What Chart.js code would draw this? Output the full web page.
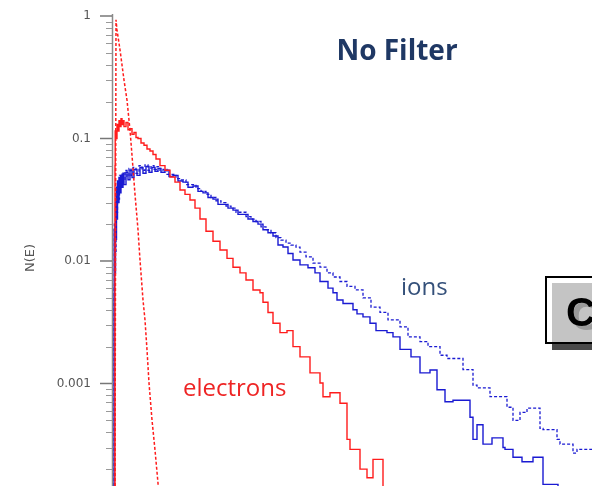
<!DOCTYPE html>
<html><head><meta charset="utf-8">
<script src="https://cdn.jsdelivr.net/npm/chart.js@4.4.1/dist/chart.umd.min.js"></script>
<style>html,body{margin:0;padding:0;background:#fff;overflow:hidden}</style>
</head><body>
<canvas id="c" width="592" height="486"></canvas>
<script>
// ---- tick labels ----
const yTickValues = [1, 0.1, 0.01, 0.001];
const yTickLabels = ['1', '0.1', '0.01', '0.001'];

// ---- electrons, dashed (sharp spike) ----
const redDashE = [0.2, 0.3, 0.4, 0.7, 1.1, 1.4, 1.7, 1.9, 2.2, 2.5, 2.7, 3.0, 3.2, 3.4, 3.6, 3.9, 4.2, 4.5, 4.6];
const redDashN = [0.0001, 0.93, 0.77, 0.53, 0.30, 0.206, 0.117, 0.073, 0.035, 0.018, 0.0102, 0.0048, 0.0033, 0.00188, 0.00101, 0.000504, 0.000286, 0.000154, 0.0001];

// ---- electrons, solid ----
const redSolE = [0.2, 0.22, 0.3, 0.4, 0.5, 0.6, 0.7, 0.8, 0.9, 1.0, 1.1, 1.3, 1.5, 1.7, 1.9, 2.1, 2.3, 2.5, 2.8, 3.1, 3.4, 3.7, 4.0, 4.3, 4.7, 5.2, 5.7, 6.2, 6.7, 7.2, 7.7, 8.2, 8.7, 9.3, 10.0, 10.7, 11.4, 12.0, 12.7, 13.3, 14.0, 14.7, 15.0, 15.5, 16.0, 16.7, 17.4, 18.0, 18.7, 19.7, 20.7, 21.0, 21.7, 22.7, 23.4, 23.7, 24.7, 25.4, 26.0, 27.0, 27.4];
const redSolN = [0.0001, 0.06, 0.115, 0.10, 0.13, 0.115, 0.14, 0.125, 0.145, 0.13, 0.14, 0.125, 0.135, 0.118, 0.12, 0.108, 0.112, 0.102, 0.100, 0.092, 0.088, 0.082, 0.079, 0.074, 0.068, 0.060, 0.055, 0.0485, 0.044, 0.038, 0.035, 0.0315, 0.027, 0.022, 0.0175, 0.0145, 0.0123, 0.0105, 0.0089, 0.0080, 0.0070, 0.0058, 0.0055, 0.0046, 0.0038, 0.0031, 0.0026, 0.0027, 0.0020, 0.00165, 0.00122, 0.00101, 0.00078, 0.00084, 0.00069, 0.00035, 0.00029, 0.00020, 0.00017, 0.00024, 0.0001];

// ---- ions, solid ----
const blueSolE = [0.1, 0.12, 0.2, 0.25, 0.3, 0.35, 0.4, 0.45, 0.5, 0.6, 0.7, 0.8, 0.9, 1.0, 1.1, 1.3, 1.5, 1.7, 1.9, 2.1, 2.4, 2.7, 3.0, 3.3, 3.6, 3.9, 4.2, 4.5, 4.8, 5.2, 5.6, 6.0, 6.5, 7.0, 7.5, 8.0, 8.5, 9.0, 9.5, 10.0, 10.5, 11.0, 11.5, 12.0, 12.5, 13.0, 13.5, 14.0, 14.5, 15.0, 15.5, 16.0, 16.5, 17.0, 17.5, 18.0, 18.7, 19.5, 20.2, 20.7, 21.5, 22.0, 22.4, 23.0, 24.0, 24.4, 25.0, 25.7, 26.3, 27.4, 28.0, 28.7, 29.0, 29.8, 30.7, 31.7, 32.4, 33.2, 34.0, 35.7, 36.0, 36.4, 37.0, 37.9, 39.0, 39.2, 40.0, 40.9, 42.0, 43.0, 43.7, 44.5, 44.6];
const blueSolN = [0.0001, 0.0051, 0.018, 0.008, 0.03, 0.015, 0.04, 0.022, 0.045, 0.03, 0.048, 0.036, 0.05, 0.04, 0.052, 0.042, 0.053, 0.046, 0.055, 0.048, 0.056, 0.05, 0.058, 0.052, 0.059, 0.053, 0.058, 0.054, 0.057, 0.053, 0.055, 0.049, 0.050, 0.045, 0.044, 0.040, 0.041, 0.037, 0.036, 0.033, 0.032, 0.029, 0.029, 0.027, 0.026, 0.024, 0.024, 0.022, 0.021, 0.020, 0.018, 0.017, 0.016, 0.0135, 0.013, 0.0115, 0.0102, 0.0093, 0.0088, 0.0080, 0.0068, 0.0060, 0.0055, 0.0048, 0.0045, 0.0040, 0.0037, 0.0035, 0.0031, 0.0027, 0.0026, 0.0024, 0.0019, 0.0019, 0.00165, 0.00122, 0.00129, 0.00089, 0.00071, 0.00073, 0.00053, 0.00035, 0.00046, 0.00032, 0.00036, 0.00030, 0.00029, 0.00025, 0.00023, 0.00025, 0.00015, 0.00015, 0.0001];

// ---- ions, dashed ----
const blueDashE = [0.1, 0.13, 0.2, 0.3, 0.35, 0.45, 0.55, 0.65, 0.75, 0.9, 1.0, 1.2, 1.4, 1.6, 1.8, 2.0, 2.3, 2.6, 2.9, 3.2, 3.5, 3.8, 4.1, 4.4, 4.7, 5.0, 5.4, 5.8, 6.3, 6.8, 7.3, 7.8, 8.3, 8.8, 9.3, 9.8, 10.3, 10.8, 11.3, 11.8, 12.3, 12.8, 13.3, 13.8, 14.3, 14.8, 15.3, 15.8, 16.3, 16.8, 17.3, 17.8, 18.3, 18.7, 19.3, 20.0, 20.7, 21.4, 22.0, 22.7, 23.4, 24.2, 25.0, 25.8, 26.7, 27.5, 28.7, 29.5, 30.7, 31.5, 32.7, 33.4, 35.0, 36.0, 36.4, 37.7, 39.4, 40.0, 40.7, 41.4, 42.7, 43.0, 44.4, 44.7, 46.0, 46.4, 47.7, 48.0];
const blueDashN = [0.0001, 0.006, 0.02, 0.012, 0.035, 0.025, 0.044, 0.032, 0.05, 0.042, 0.052, 0.045, 0.055, 0.049, 0.057, 0.05, 0.058, 0.052, 0.060, 0.055, 0.061, 0.055, 0.060, 0.056, 0.059, 0.055, 0.056, 0.051, 0.051, 0.047, 0.046, 0.042, 0.042, 0.039, 0.037, 0.035, 0.033, 0.031, 0.030, 0.028, 0.027, 0.025, 0.025, 0.023, 0.022, 0.021, 0.019, 0.018, 0.017, 0.0155, 0.0148, 0.014, 0.0135, 0.013, 0.0118, 0.0108, 0.0096, 0.0089, 0.0080, 0.0074, 0.0068, 0.0062, 0.0058, 0.0050, 0.0042, 0.0038, 0.0033, 0.0029, 0.0024, 0.0022, 0.0020, 0.0017, 0.0016, 0.0013, 0.00097, 0.00092, 0.00078, 0.00064, 0.00050, 0.00058, 0.00063, 0.00043, 0.00042, 0.00035, 0.00032, 0.00027, 0.00029, 0.00029];

const pts = (xs, ys) => xs.map((x, i) => ({x: x, y: ys[i]}));

const decor = {
  id: 'decor',
  afterDraw(chart) {
    const ctx = chart.ctx;
    const ys = chart.scales.y;
    const top = chart.chartArea.top, bottom = chart.chartArea.bottom;
    ctx.save();
    // axis line
    ctx.strokeStyle = '#8a8a8a';
    ctx.lineWidth = 1.5;
    ctx.beginPath(); ctx.moveTo(112.5, top - 2); ctx.lineTo(112.5, bottom); ctx.stroke();
    // major ticks
    ctx.strokeStyle = '#777';
    ctx.lineWidth = 1.5;
    yTickValues.forEach(v => {
      const p = ys.getPixelForValue(v);
      ctx.beginPath(); ctx.moveTo(100, p); ctx.lineTo(112, p); ctx.stroke();
    });
    // minor ticks
    ctx.strokeStyle = '#999';
    ctx.lineWidth = 1;
    for (let k = -4; k < 0; k++) {
      for (let m = 2; m <= 9; m++) {
        const v = m * Math.pow(10, k);
        if (v < ys.min || v > ys.max) continue;
        const p = Math.round(ys.getPixelForValue(v)) + 0.5;
        ctx.beginPath(); ctx.moveTo(106, p); ctx.lineTo(112, p); ctx.stroke();
      }
    }
    // axis title
    ctx.save();
    ctx.translate(31, 258);
    ctx.rotate(-Math.PI / 2);
    ctx.font = '13px "DejaVu Sans"';
    ctx.fillStyle = '#555';
    ctx.textAlign = 'center';
    ctx.textBaseline = 'middle';
    ctx.fillText('N(E)', 0, 0);
    ctx.restore();
    // title
    ctx.font = 'bold 28px "Open Sans"';
    ctx.fillStyle = '#1f3864';
    ctx.textAlign = 'center';
    ctx.textBaseline = 'alphabetic';
    ctx.fillText('No Filter', 397, 60);
    // labels
    ctx.textAlign = 'left';
    ctx.font = '24px "Open Sans"';
    ctx.fillStyle = '#34507a';
    ctx.fillText('ions', 401, 295);
    ctx.fillStyle = '#ee2424';
    ctx.fillText('electrons', 183, 396);
    // C box
    ctx.fillStyle = '#4a4a4a';
    ctx.fillRect(552, 343, 40, 7);
    ctx.fillStyle = '#ffffff';
    ctx.fillRect(546, 277, 50, 67);
    ctx.fillStyle = '#c4c4c4';
    ctx.fillRect(552, 283, 44, 59);
    ctx.strokeStyle = '#000';
    ctx.lineWidth = 2;
    ctx.strokeRect(546, 277, 60, 66);
    ctx.font = 'bold 41px "Liberation Sans"';
    ctx.fillStyle = '#9a9a9a';
    ctx.fillText('C', 571, 330);
    ctx.fillStyle = '#000';
    ctx.fillText('C', 566, 326);
    ctx.restore();
  }
};

new Chart(document.getElementById('c'), {
  type: 'line',
  data: {
    datasets: [
      {data: pts(redDashE, redDashN), borderColor: '#ff1c1c', borderWidth: 1.5, borderDash: [3, 2], pointRadius: 0, tension: 0, fill: false},
      {data: pts(redSolE, redSolN), borderColor: '#ff1c1c', borderWidth: 1.4, pointRadius: 0, stepped: 'after', fill: false},
      {data: pts(blueSolE, blueSolN), borderColor: '#1a1ad2', borderWidth: 1.4, pointRadius: 0, stepped: 'after', fill: false},
      {data: pts(blueDashE, blueDashN), borderColor: '#1a1ad2', borderWidth: 1.3, borderDash: [3, 2], pointRadius: 0, stepped: 'after', fill: false}
    ]
  },
  options: {
    responsive: false,
    animation: false,
    devicePixelRatio: 1,
    layout: {padding: {top: 16, left: 0, right: 0, bottom: 0}},
    plugins: {legend: {display: false}, title: {display: false}, tooltip: {enabled: false}},
    events: [],
    scales: {
      x: {type: 'linear', min: 0, max: 47.9, display: false},
      y: {
        type: 'logarithmic', min: 1.456e-4, max: 1, position: 'left', bounds: 'data',
        afterBuildTicks: s => { s.ticks = yTickValues.map(v => ({value: v})); },
        afterFit: s => { s.width = 113; s.paddingTop = 0; s.paddingBottom = 0; },
        grid: {display: false, drawTicks: false, tickLength: 0},
        border: {display: false},
        ticks: {
          padding: 22, autoSkip: false, color: '#555',
          font: {family: '"DejaVu Sans"', size: 12},
          callback: (v, i) => yTickLabels[i]
        }
      }
    }
  },
  plugins: [decor]
});
</script>
</body></html>
